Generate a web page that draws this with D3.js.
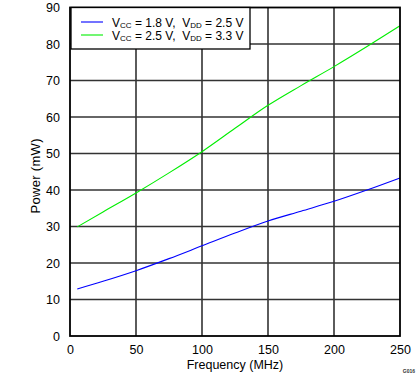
<!DOCTYPE html>
<html><head><meta charset="utf-8">
<script src="https://cdn.jsdelivr.net/npm/d3@7"></script>
<style>body{margin:0;background:#fff}svg{display:block}text{font-family:"Liberation Sans",Arial,sans-serif}</style>
</head><body>
<svg id="c" width="419" height="382"></svg>
<script>
const xTicks = [0, 50, 100, 150, 200, 250];
const yTicks = [0, 10, 20, 30, 40, 50, 60, 70, 80, 90];
const freq = [5.5, 25, 50, 75, 100, 125, 150, 175, 200, 225, 250];
const powerLow = [12.9, 15.0, 17.9, 21.2, 24.7, 28.2, 31.5, 34.2, 36.9, 40.0, 43.3];
const powerHigh = [29.9, 34.0, 39.2, 44.7, 50.5, 56.9, 63.2, 68.6, 73.8, 79.3, 85.0];
const seriesNames = [["V","CC"," = 1.8 V,  ","V","DD"," = 2.5 V"],["V","CC"," = 2.5 V,  ","V","DD"," = 3.3 V"]];
const colors = ["#0000ff", "#00ee00"];

const svg = d3.select("#c");
const m = {l:70, r:400, t:7.5, b:336};
const x = d3.scaleLinear().domain([0,250]).range([m.l, m.r]);
const y = d3.scaleLinear().domain([0,90]).range([m.b, m.t]);

const g = svg.append("g");
g.selectAll(".gx").data(xTicks.slice(1,-1)).join("line")
  .attr("x1", d=>x(d)).attr("x2", d=>x(d)).attr("y1", m.t).attr("y2", m.b)
  .attr("stroke","#333").attr("stroke-width",1.6);
g.selectAll(".gy").data(yTicks.slice(1,-1)).join("line")
  .attr("y1", d=>y(d)).attr("y2", d=>y(d)).attr("x1", m.l).attr("x2", m.r)
  .attr("stroke","#333").attr("stroke-width",1.6);

const xa = svg.append("g").attr("transform",`translate(0,${m.b})`)
  .call(d3.axisBottom(x).tickValues(xTicks).tickSize(0).tickPadding(9));
const ya = svg.append("g").attr("transform",`translate(${m.l},0)`)
  .call(d3.axisLeft(y).tickValues(yTicks).tickSize(0).tickPadding(10));
[xa, ya].forEach(a => { a.select(".domain").remove(); a.selectAll("text").attr("font-size",12.5).attr("fill","#000").attr("font-family","'Liberation Sans',Arial,sans-serif"); });

const line = d3.line().x((d,i)=>x(freq[i])).y(d=>y(d)).curve(d3.curveMonotoneX);
[powerLow, powerHigh].forEach((s,i)=>{
  svg.append("path").attr("d", line(s)).attr("fill","none").attr("stroke",colors[i]).attr("stroke-width",1.1);
});

svg.append("rect").attr("x",m.l).attr("y",m.t).attr("width",m.r-m.l).attr("height",m.b-m.t)
  .attr("fill","none").attr("stroke","#000").attr("stroke-width",1.8);

const lg = svg.append("g");
lg.append("rect").attr("x",71).attr("y",7.5).attr("width",179).attr("height",41.5)
  .attr("fill","#fff").attr("stroke","#000").attr("stroke-width",1.3);
seriesNames.forEach((parts,i)=>{
  const yy = 22 + i*13;
  lg.append("line").attr("x1",81).attr("x2",103).attr("y1",yy).attr("y2",yy).attr("stroke",colors[i]).attr("stroke-width",1.1);
  const t = lg.append("text").attr("x",112).attr("y",yy+4.5).attr("font-size",12).attr("fill","#000").attr("xml:space","preserve");
  parts.forEach((p,j)=>{
    const sub = (j===1||j===4);
    const ts = t.append("tspan").text(p);
    if (sub) ts.attr("font-size",8).attr("dy",1.5);
    else if (j===2||j===5) ts.attr("dy",-1.5);
  });
});

svg.append("text").attr("x",(m.l+m.r)/2).attr("y",369).attr("text-anchor","middle").attr("font-size",12.5).text("Frequency (MHz)");
svg.append("text").attr("transform",`translate(39.5,176) rotate(-90)`).attr("text-anchor","middle").attr("font-size",13).attr("textLength",75).attr("lengthAdjust","spacing").text("Power (mW)");
svg.append("text").attr("x",415).attr("y",373).attr("text-anchor","end").attr("font-size",5).attr("font-weight","bold").attr("fill","#333").text("G016");
</script>
</body></html>
